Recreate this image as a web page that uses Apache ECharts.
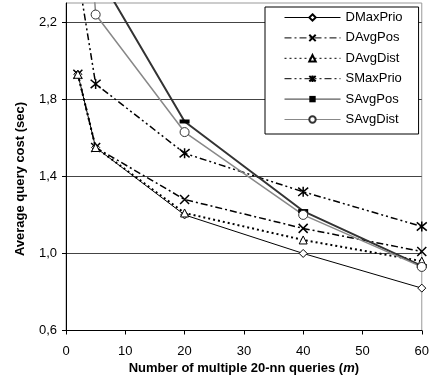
<!DOCTYPE html>
<html>
<head>
<meta charset="utf-8">
<script src="https://cdn.jsdelivr.net/npm/echarts@6/dist/echarts.min.js"></script>
<style>
html,body{margin:0;padding:0;background:#fff;}
#chart{width:432px;height:383px;}
</style>
</head>
<body>
<div id="chart"></div>
<script>
const xValues = [2, 5, 20, 40, 60];
const seriesNames = ['DMaxPrio', 'DAvgPos', 'DAvgDist', 'SMaxPrio', 'SAvgPos', 'SAvgDist'];
const dMaxPrio = [1.93, 1.55, 1.20, 1.00, 0.82];
const dAvgPos  = [1.93, 1.55, 1.28, 1.13, 1.01];
const dAvgDist = [1.93, 1.55, 1.21, 1.07, 0.96];
const sMaxPrio = [2.45, 1.88, 1.52, 1.32, 1.14];
const sAvgPos  = [2.9, 2.47, 1.685, 1.22, 0.935];
const sAvgDist = [3.6, 2.24, 1.63, 1.20, 0.93];
const yTicks = [0.6, 1.0, 1.4, 1.8, 2.2];
const xTitle = 'Number of multiple 20-nn queries ';
const yTitle = 'Average query cost (sec)';

const FONT = 'Liberation Sans, Arial, sans-serif';
const pair = arr => xValues.map((x, i) => [x, arr[i]]);
const X_PATH = 'path://M0,0L10,10M10,0L0,10';
const STAR_PATH = 'path://M0,0L10,10M10,0L0,10M5,-1L5,11';

const chart = echarts.init(document.getElementById('chart'), null, {renderer: 'canvas'});
chart.setOption({
  animation: false,
  backgroundColor: '#fff',
  grid: {left: 66, right: 5.5, top: 3, bottom: 52.5, show: true, borderColor: '#999', borderWidth: 1, backgroundColor: 'transparent'},
  legend: {
    orient: 'vertical', left: 265, top: 7,
    backgroundColor: '#fff', borderColor: '#000', borderWidth: 1,
    padding: [4, 16, 8, 19],
    itemWidth: 56, itemHeight: 8, itemGap: 7.4,
    lineStyle: {width: 1},
    textStyle: {fontSize: 13, fontFamily: FONT, color: '#000'},
    data: seriesNames
  },
  xAxis: {
    type: 'value', min: 0, max: 60, interval: 10,
    axisLine: {lineStyle: {color: '#000', width: 1}},
    axisTick: {length: 4, lineStyle: {color: '#000'}},
    axisLabel: {fontSize: 13, fontFamily: FONT, color: '#000', margin: 14},
    splitLine: {show: false},
    name: xTitle + '({i|m})',
    nameLocation: 'middle', nameGap: 31,
    nameTextStyle: {fontSize: 13, fontWeight: 'bold', fontFamily: FONT, color: '#000',
      rich: {i: {fontSize: 13, fontWeight: 'bold', fontStyle: 'italic', fontFamily: FONT, color: '#000'}}}
  },
  yAxis: {
    type: 'value', min: 0.6, max: 2.3, interval: 0.4,
    axisLine: {show: true, lineStyle: {color: '#000', width: 1}},
    axisTick: {show: true, length: 4, lineStyle: {color: '#000'}, customValues: yTicks},
    axisLabel: {fontSize: 13, fontFamily: FONT, color: '#000', margin: 9, customValues: yTicks,
      formatter: v => v.toFixed(1).replace('.', ',')},
    splitLine: {show: true, lineStyle: {color: '#444', width: 1}}
  },
  graphic: [{
    type: 'text', x: 20, y: 179, rotation: Math.PI / 2,
    style: {text: yTitle, fontSize: 13, fontWeight: 'bold', fontFamily: FONT, fill: '#000',
      align: 'center', verticalAlign: 'middle'}
  }],
  series: [
    {name: 'DMaxPrio', type: 'line', data: pair(dMaxPrio), symbol: 'diamond', symbolSize: 8,
     itemStyle: {color: '#fff', borderColor: '#000', borderWidth: 1},
     lineStyle: {color: '#000', width: 1, type: 'solid'}},
    {name: 'DAvgPos', type: 'line', data: pair(dAvgPos), symbol: X_PATH, symbolSize: 9,
     itemStyle: {color: '#000', borderColor: '#000', borderWidth: 1.5},
     lineStyle: {color: '#000', width: 1.5, type: [7, 3, 2, 3]}},
    {name: 'DAvgDist', type: 'line', data: pair(dAvgDist), symbol: 'triangle', symbolSize: 8,
     itemStyle: {color: '#fff', borderColor: '#000', borderWidth: 1},
     lineStyle: {color: '#000', width: 2, type: [2, 3]}},
    {name: 'SMaxPrio', type: 'line', data: pair(sMaxPrio), symbol: STAR_PATH, symbolSize: 10,
     itemStyle: {color: '#000', borderColor: '#000', borderWidth: 1.5},
     lineStyle: {color: '#000', width: 1.5, type: [7, 3, 2, 3, 2, 3]}},
    {name: 'SAvgPos', type: 'line', data: pair(sAvgPos), symbol: 'rect', symbolSize: [10, 4],
     itemStyle: {color: '#000', borderColor: '#000', borderWidth: 0},
     lineStyle: {color: '#333', width: 2, type: 'solid'}},
    {name: 'SAvgDist', type: 'line', data: pair(sAvgDist), symbol: 'circle', symbolSize: 9,
     itemStyle: {color: '#fff', borderColor: '#333', borderWidth: 1},
     lineStyle: {color: '#888', width: 1.5, type: 'solid'}}
  ]
});
</script>
</body>
</html>
